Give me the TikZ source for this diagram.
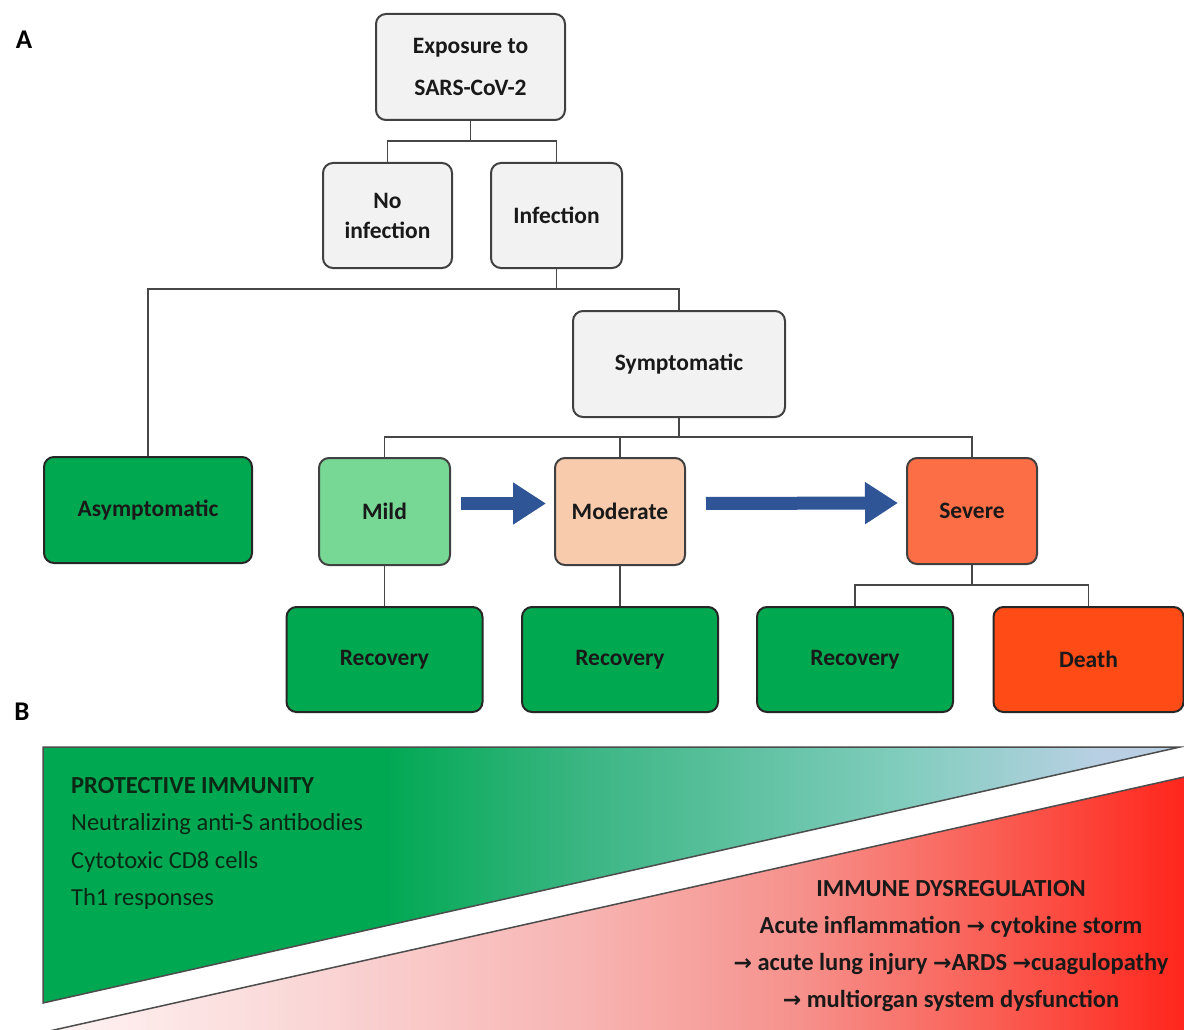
\documentclass[tikz,border=0pt]{standalone}
\usepackage{fontspec}
\setmainfont{Carlito}
\newfontfamily\arrowfont{DejaVu Sans}
\usepackage{tikz}
\usetikzlibrary{arrows.meta, positioning}

\definecolor{boxgray}{RGB}{242,242,242}
\definecolor{okgreen}{RGB}{0,168,80}
\definecolor{mildgreen}{RGB}{118,216,148}
\definecolor{peach}{RGB}{248,203,173}
\definecolor{severeorange}{RGB}{252,110,70}
\definecolor{deathred}{RGB}{255,75,22}
\definecolor{arrowblue}{RGB}{47,85,151}
\definecolor{protecttext}{RGB}{10,40,20}
\definecolor{pgzero}{RGB}{0,168,82}
\definecolor{pgone}{RGB}{60,182,132}
\definecolor{pgtwo}{RGB}{130,205,190}
\definecolor{pgthree}{RGB}{185,208,228}
\definecolor{rrzero}{RGB}{255,242,242}
\definecolor{rrone}{RGB}{250,215,215}
\definecolor{rrtwo}{RGB}{247,180,178}
\definecolor{rrthree}{RGB}{246,145,140}
\definecolor{rrfour}{RGB}{250,92,82}
\definecolor{rrfive}{RGB}{255,38,28}

\pgfdeclarehorizontalshading{protectfade}{100bp}{color(0bp)=(pgzero); color(25bp)=(pgzero); color(40bp)=(pgzero); color(49bp)=(pgone); color(63bp)=(pgtwo); color(71.5bp)=(pgthree); color(100bp)=(pgthree)}
\pgfdeclarehorizontalshading{dysregfade}{100bp}{color(0bp)=(rrzero); color(25.7bp)=(rrzero); color(36.2bp)=(rrone); color(48.7bp)=(rrtwo); color(58.1bp)=(rrthree); color(66.9bp)=(rrfour); color(75bp)=(rrfive); color(100bp)=(rrfive)}

\newcommand{\rarr}{{\arrowfont\fontsize{22}{22}\selectfont →}}

\tikzset{
  block/.style={
    rectangle,
    draw=black!75,
    line width=2pt,
    fill=boxgray,
    rounded corners=10pt,
    align=center,
    text=black!90,
    font=\fontsize{23.5}{30}\selectfont\bfseries,
    minimum width=130pt,
    minimum height=106pt,
    inner sep=2pt
  },
  outcome/.style={
    block,
    draw=black!85,
    fill=okgreen,
    minimum width=196pt,
    minimum height=105pt
  },
  link/.style={
    draw=black!72,
    line width=1.8pt
  },
  fatarrow/.style={
    draw=arrowblue,
    line width=13pt,
    -{Triangle[length=33pt, width=40pt]}
  },
  panel/.style={
    font=\fontsize{27}{27}\selectfont\bfseries,
    inner sep=0pt
  }
}

\begin{document}
\begin{tikzpicture}[x=1pt, y=-1pt]
  \useasboundingbox (0,0) rectangle (1184,1030);

  \node[panel] (labelA) at (24,40) {A};
  \node[panel] (labelB) at (22,712) {B};

  \node[block, minimum width=189pt] (exposure) at (470.5,67) {Exposure to\\[12pt]SARS-CoV-2};
  \node[block, minimum width=129pt, minimum height=105pt] (noinf) at (387.5,215.5) {No\\infection};
  \node[block, minimum width=131pt, minimum height=105pt] (infection) at (556.5,215.5) {Infection};
  \node[block, minimum width=212pt] (sympt) at (679,364) {Symptomatic};
  \node[block, draw=black!85, fill=okgreen, minimum width=208pt] (asympt) at (148,510) {Asymptomatic};
  \node[block, fill=mildgreen, minimum width=131pt, minimum height=107pt] (mild) at (384.5,511.5) {Mild};
  \node[block, fill=peach, minimum height=107pt] (moderate) at (620,511.5) {Moderate};
  \node[block, fill=severeorange] (severe) at (972,511) {Severe};

  \node[outcome, below=40pt of mild] (recmild) {Recovery};
  \node[outcome, below=40pt of moderate] (recmod) {Recovery};
  \node[outcome] (recsev) at (855,659.5) {Recovery};
  \node[outcome, fill=deathred, minimum width=190pt] (death) at (1088.5,659.5) {Death};

  \coordinate (splitA) at (470.5,141);
  \coordinate (splitB) at (556.5,289);
  \coordinate (splitC) at (679,437);
  \coordinate (splitD) at (972,585);

  \draw[link] (exposure.south) -- (splitA);
  \draw[link] (noinf.north) |- (splitA) -| (infection.north);
  \draw[link] (infection.south) -- (splitB);
  \draw[link] (asympt.north) |- (splitB) -| (sympt.north);
  \draw[link] (sympt.south) -- (splitC);
  \draw[link] (mild.north) |- (splitC) -| (severe.north);
  \draw[link] (moderate.north) -- (moderate.north |- splitC);
  \draw[link] (mild.south) -- (recmild.north);
  \draw[link] (moderate.south) -- (recmod.north);
  \draw[link] (severe.south) -- (splitD);
  \draw[link] (recsev.north) |- (splitD) -| (death.north);

  \draw[fatarrow, shorten <=10pt, shorten >=8pt] ([yshift=8pt]mild.east) -- ([yshift=8pt]moderate.west);
  \draw[fatarrow, shorten <=20pt, shorten >=8pt] ([yshift=8pt]moderate.east) -- ([yshift=8pt]severe.west);

  \shade[shading=dysregfade] (45,1032) -- (1184,777) -- (1184,1032) -- cycle;
  \draw[draw=black!70, line width=1.5pt] (45,1032) -- (1184,777);
  \shadedraw[shading=protectfade, draw=black!70, line width=1.5pt] (43,747) -- (1180,747) -- (43,1003) -- cycle;

  \node[anchor=north west, align=left, inner sep=0pt, text=protecttext, font=\fontsize{24.5}{37.5}\selectfont] (protect) at (71,777)
    {\textbf{PROTECTIVE IMMUNITY}\\Neutralizing anti-S antibodies\\Cytotoxic CD8 cells\\Th1 responses};
  \node[anchor=north, align=center, inner sep=0pt, text=black!90, font=\fontsize{24.5}{37}\selectfont\bfseries] (dysreg) at (951,880)
    {IMMUNE DYSREGULATION\\Acute inflammation \rarr{} cytokine storm\\\rarr{} acute lung injury \rarr ARDS \rarr cuagulopathy\\\rarr{} multiorgan system dysfunction};
\end{tikzpicture}
\end{document}
